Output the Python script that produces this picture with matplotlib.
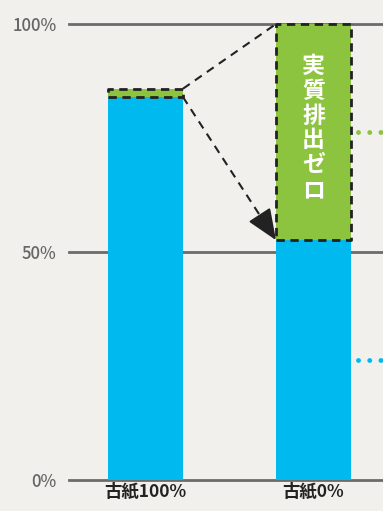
import numpy as np
import matplotlib.pyplot as plt

plt.rcParams['font.family'] = ['Noto Sans CJK JP', 'DejaVu Sans']

categories = ['古紙100%', '古紙0%']
emitted = [84.0, 52.6]      # blue part
offset = [1.8, 47.4]        # green part (実質排出ゼロ)
yticks = [0, 50, 100]
ytick_labels = ['0%', '50%', '100%']
label = '実質排出ゼロ'

blue = '#00b9ef'
green = '#8cc43f'
bg = '#f1f0ed'

fig = plt.figure(figsize=(3.83, 5.11), dpi=100, facecolor=bg)
ax = fig.add_axes([69 / 383, 31 / 511, 1 - 69 / 383, 456 / 511])
ax.set_facecolor(bg)

x = np.arange(len(categories))
w = 0.446
ax.set_xlim(-0.455, 1.414)
ax.set_ylim(0, 100)

for y in yticks:
    ax.axhline(y, color='#6b6b6b', lw=2, zorder=1, clip_on=False)

ax.bar(x, emitted, w, color=blue, zorder=2)
ax.bar(x, offset, w, bottom=emitted, color=green, zorder=2)

# dashed outline around green parts
for xi, b, h in zip(x, emitted, offset):
    xs = [xi - w / 2, xi + w / 2, xi + w / 2, xi - w / 2, xi - w / 2]
    ys = [b, b, b + h, b + h, b]
    ax.plot(xs, ys, color='#222222', lw=2, ls=(0, (3, 2)), zorder=3, clip_on=False)

# connector lines
top0 = emitted[0] + offset[0]
top1 = emitted[1] + offset[1]
ax.plot([x[0] + w / 2, x[1] - w / 2], [top0, top1], color='#222222', lw=1.5,
        ls=(0, (4, 3)), zorder=3, clip_on=False)
x_end = x[1] - w / 2
y_end = emitted[1]
frac = 0.85
xm = x[0] + w / 2 + (x_end - x[0] - w / 2) * frac
ym = emitted[0] + (y_end - emitted[0]) * frac
ax.plot([x[0] + w / 2, xm], [emitted[0], ym], color='#222222', lw=1.5,
        ls=(0, (4, 3)), zorder=3)
ax.annotate('', xy=(x_end, y_end), xytext=(xm, ym),
            arrowprops=dict(arrowstyle='-|>,head_length=1.2,head_width=0.5',
                            color='#222222', lw=1.5, shrinkA=0, shrinkB=0,
                            mutation_scale=16), zorder=4)

# vertical label
ax.text(x[1], 93.2, '\n'.join(label), color='white', fontsize=16.5, fontweight='bold',
        ha='center', va='top', linespacing=1.1, zorder=5)

# dotted leaders to the right
ax.plot([x[1] + w / 2 + 0.04, 1.45], [emitted[1] + offset[1] / 2] * 2, color=green,
        lw=3.5, ls=(0, (0.01, 2.3)), dash_capstyle='round', zorder=2, clip_on=False)
ax.plot([x[1] + w / 2 + 0.04, 1.45], [emitted[1] / 2] * 2, color=blue,
        lw=3.5, ls=(0, (0.01, 2.3)), dash_capstyle='round', zorder=2, clip_on=False)

ax.set_yticks(yticks)
ax.set_yticklabels(ytick_labels, color='#666666', fontsize=12, fontweight='medium')
ax.set_xticks(x)
ax.set_xticklabels(categories, color='#222222', fontsize=12.5, fontweight='bold')
ax.tick_params(length=0, axis='y', pad=9)
ax.tick_params(length=0, axis='x', pad=2)
for s in ax.spines.values():
    s.set_visible(False)

fig.savefig('out.png', dpi=100, facecolor=bg)
